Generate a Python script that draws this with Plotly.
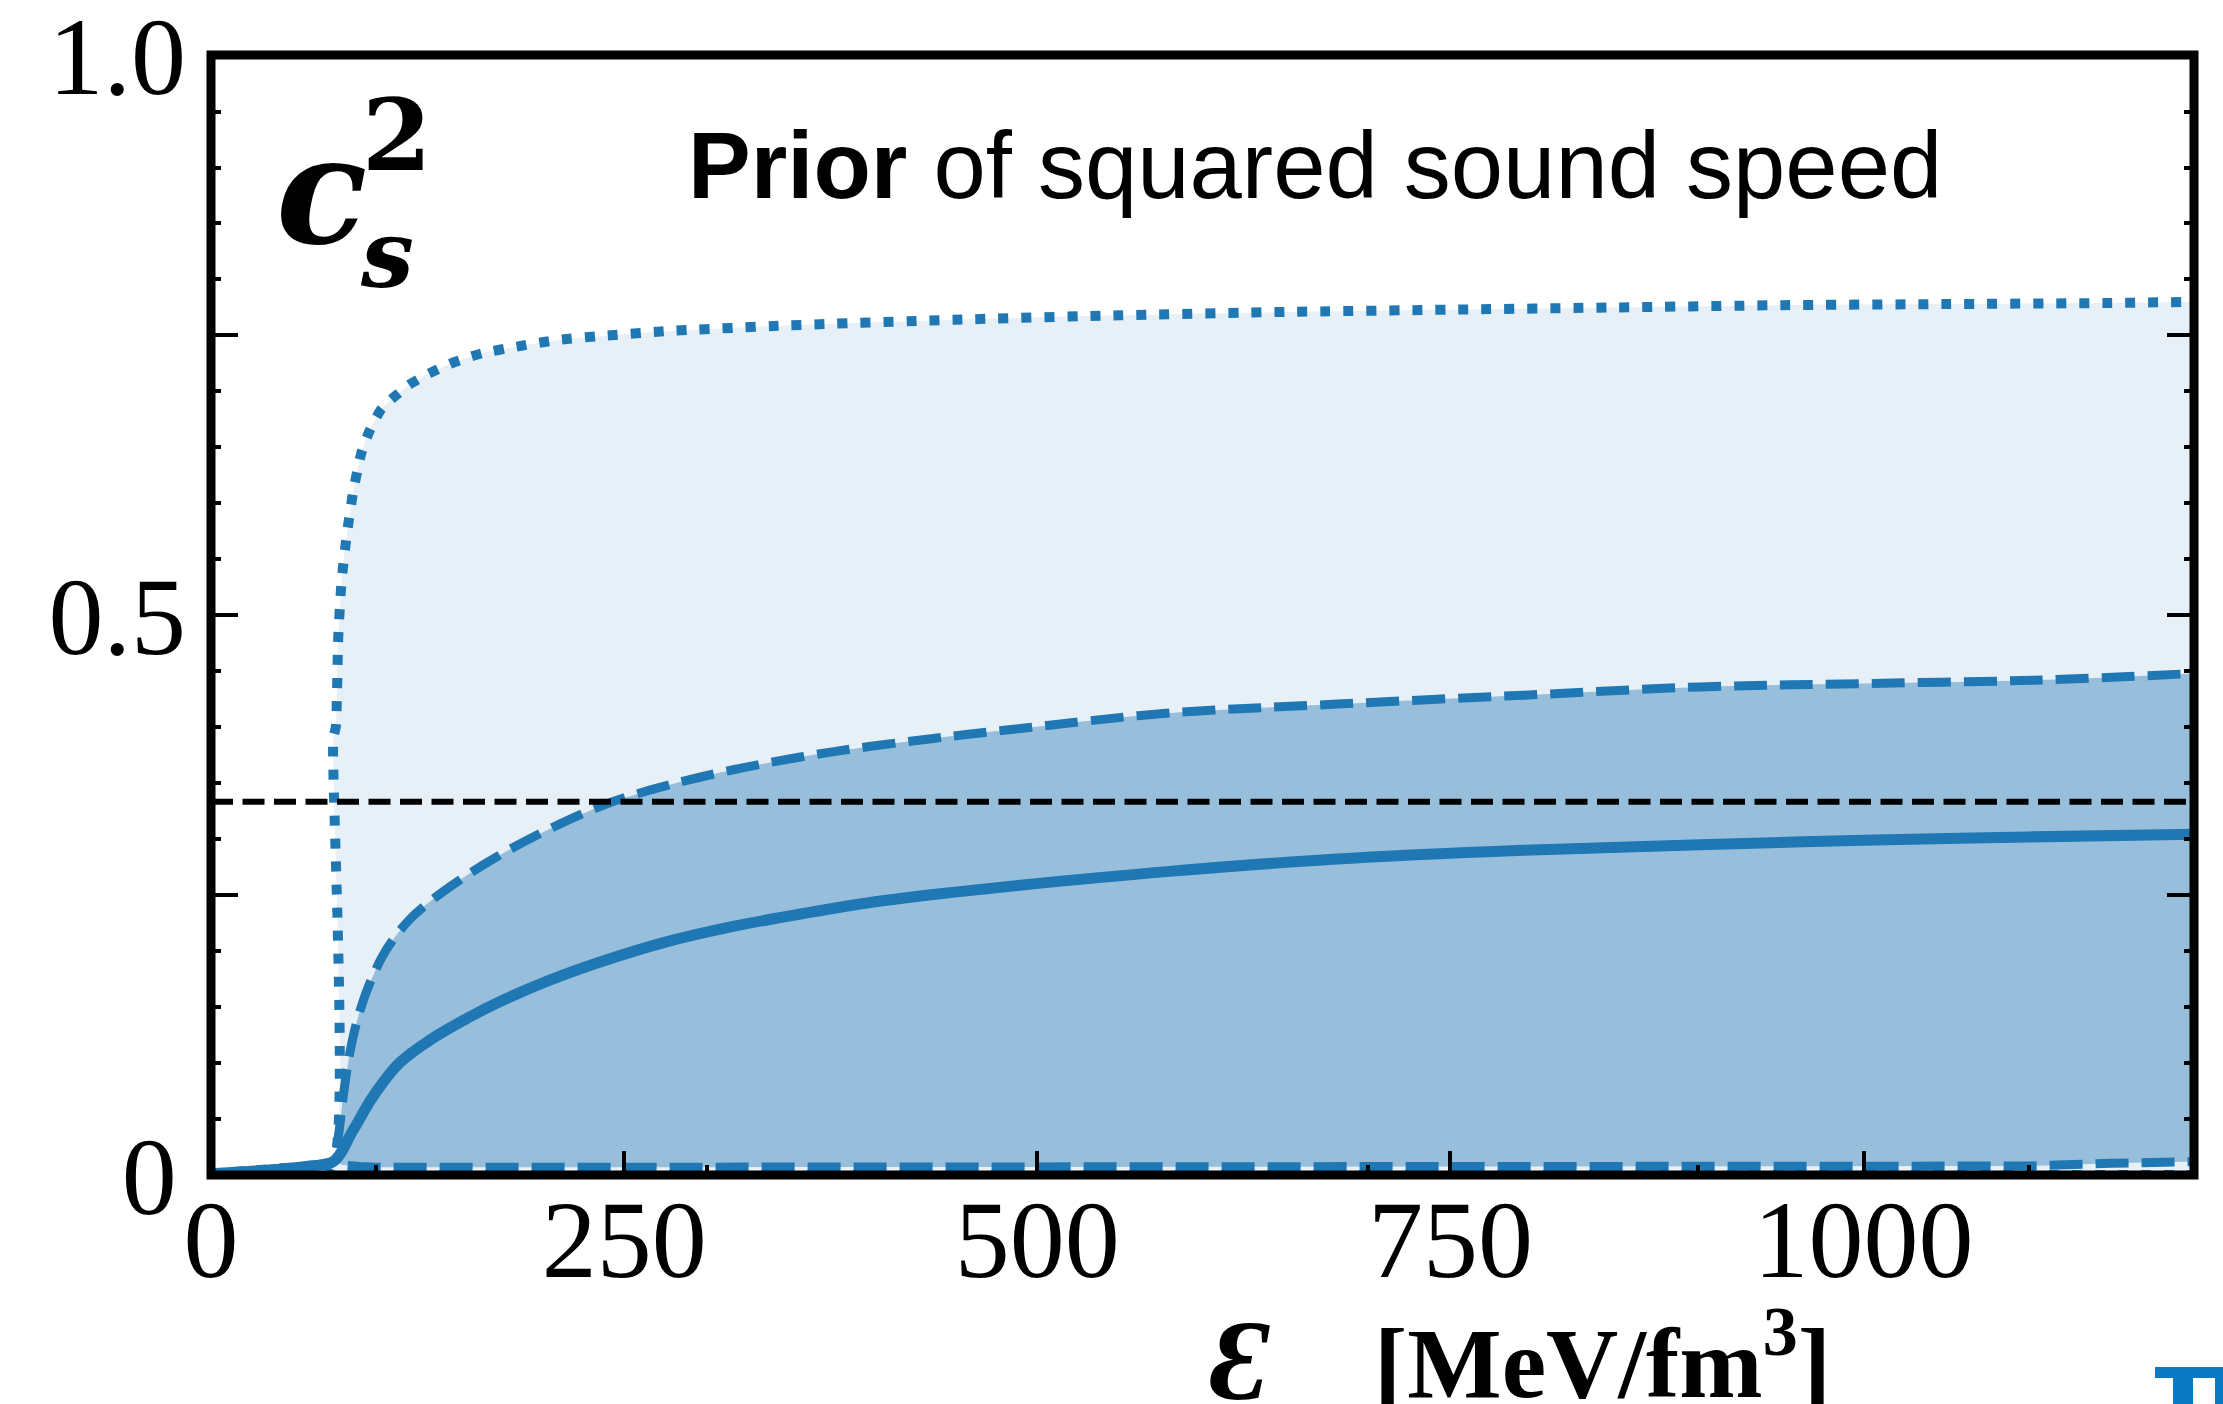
import plotly.graph_objects as go

# ---------------- data ----------------
# crust part (all quantiles coincide)
crust_e = [0, 20, 40, 60]
crust_v = [0.001, 0.003, 0.005, 0.008]

# median (solid)
med_e = crust_e + [74, 86, 98, 114, 134, 155, 175, 205, 235, 275, 316, 360, 397, 440, 491,
                   578, 679, 794, 901, 1000, 1100, 1200]
med_v = crust_v + [0.012, 0.040, 0.070, 0.100, 0.122, 0.140, 0.155, 0.174, 0.190, 0.208, 0.222,
                   0.234, 0.243, 0.251, 0.259, 0.271, 0.282, 0.290, 0.295, 0.299, 0.302, 0.3045]

# 68% band upper (dashed)
d_up_e = crust_e + [74, 77, 80, 84, 89, 96, 106, 120, 134, 151, 167, 175, 195, 235, 266, 316,
                    376, 437, 491, 578, 679, 794, 901, 1000, 1103, 1200]
d_up_v = crust_v + [0.012, 0.034, 0.070, 0.109, 0.141, 0.171, 0.201, 0.228, 0.246, 0.264, 0.279,
                    0.286, 0.302, 0.329, 0.344, 0.362, 0.378, 0.390, 0.399, 0.4125, 0.4205,
                    0.4286, 0.436, 0.439, 0.442, 0.448]

# 68% band lower (dashed)
d_lo_e = crust_e + [74, 80, 90, 100, 300, 500, 700, 900, 1050, 1100, 1150, 1200]
d_lo_v = crust_v + [0.012, 0.009, 0.0075, 0.007, 0.007, 0.007, 0.007, 0.0072, 0.0075, 0.008,
                    0.0105, 0.012]

# 95% band upper (dotted)
p_up_e = crust_e + [74, 74, 75.5, 77, 79, 82, 86, 91, 96, 103, 110, 120, 132, 147, 164, 185,
                    210, 240, 278, 350, 450, 550, 650, 750, 850, 950, 1050, 1150, 1200]
p_up_v = crust_v + [0.012, 0.39, 0.40, 0.48, 0.53, 0.57, 0.61, 0.645, 0.665, 0.684, 0.694,
                    0.706, 0.716, 0.726, 0.734, 0.740, 0.746, 0.750, 0.754, 0.759, 0.764,
                    0.768, 0.771, 0.773, 0.775, 0.777, 0.778, 0.779, 0.780]

# 95% band lower (dotted)
p_lo_e = crust_e + [74, 80, 1200]
p_lo_v = crust_v + [0.0, 0.0, 0.0]

conformal = 1.0 / 3.0

x_ticks = [0, 250, 500, 750, 1000]
x_ticktext = ["0", "250", "500", "750", "1000"]
x_minor = [100, 300, 500, 700, 900, 1100]
y_ticks = [0, 0.25, 0.5, 0.75, 1.0]
y_ticktext = ["0\u200a", " ", "0.5", " ", "1.0"]

# ---------------- layout helpers ----------------
W, H = 2223, 1404
L, R, T, B = 211, 2194, 55, 1175


def px(xp):
    return (xp - L) / (R - L)


def py(yp):
    return (B - yp) / (B - T)


C0 = "#1f77b4"
LIGHT = "rgb(231,240,247)"
DARK = "rgb(151,191,220)"

fig = go.Figure()

fig.add_trace(go.Scatter(x=p_lo_e, y=p_lo_v, mode="lines",
                         line=dict(color=C0, width=10, dash="10px,13px"),
                         showlegend=False, hoverinfo="skip"))
fig.add_trace(go.Scatter(x=p_up_e, y=p_up_v, mode="lines", fill="tonexty", fillcolor=LIGHT,
                         line=dict(color=C0, width=10, dash="10px,13px", shape="spline",
                                   smoothing=0.6),
                         showlegend=False, hoverinfo="skip"))
fig.add_trace(go.Scatter(x=d_lo_e, y=d_lo_v, mode="lines",
                         line=dict(color=C0, width=9, dash="33px,13px"),
                         showlegend=False, hoverinfo="skip"))
fig.add_trace(go.Scatter(x=d_up_e, y=d_up_v, mode="lines", fill="tonexty", fillcolor=DARK,
                         line=dict(color=C0, width=9, dash="33px,13px", shape="spline",
                                   smoothing=1.0),
                         showlegend=False, hoverinfo="skip"))
fig.add_trace(go.Scatter(x=med_e, y=med_v, mode="lines",
                         line=dict(color=C0, width=11, shape="spline", smoothing=1.0),
                         showlegend=False, hoverinfo="skip"))
fig.add_trace(go.Scatter(x=[0, 1200], y=[conformal, conformal], mode="lines", yaxis="y2",
                         line=dict(color="black", width=6, dash="22px,9.5px"),
                         showlegend=False, hoverinfo="skip"))

tickfont = dict(family="Liberation Serif", size=110, color="black")

fig.update_layout(
    width=W, height=H, autosize=False,
    margin=dict(l=L, r=W - R, t=T, b=H - B, pad=0, autoexpand=False),
    paper_bgcolor="white", plot_bgcolor="white",
    xaxis=dict(range=[0, 1200], showgrid=False, zeroline=False, showline=False,
               automargin=False,
               tickmode="array", tickvals=x_ticks, ticktext=x_ticktext,
               ticks="inside", ticklen=24, tickwidth=4, tickcolor="black",
               tickfont=tickfont, ticklabelstandoff=-9, ticklabeloverflow="allow",
               minor=dict(tickmode="array", tickvals=x_minor, ticks="inside",
                          ticklen=10, tickwidth=3.5, tickcolor="black", showgrid=False)),
    yaxis=dict(range=[0, 1.0005], showgrid=False, zeroline=False, showline=False,
               automargin=False,
               tickmode="array", tickvals=y_ticks, ticktext=y_ticktext,
               ticks="inside", ticklen=27, tickwidth=4, tickcolor="black",
               tickfont=tickfont, ticklabelstandoff=24, ticklabeloverflow="allow",
               minor=dict(dtick=0.05, tick0=0, ticks="inside", ticklen=10, tickwidth=3.5,
                          tickcolor="black", showgrid=False)),
    yaxis2=dict(range=[0, 1.0005], overlaying="y", side="right", showgrid=False, zeroline=False,
                showline=False, showticklabels=False, automargin=False,
                tickmode="array", tickvals=y_ticks,
                ticks="inside", ticklen=27, tickwidth=4, tickcolor="black",
                minor=dict(dtick=0.05, tick0=0, ticks="inside", ticklen=10, tickwidth=3.5,
                           tickcolor="black", showgrid=False)),
)

# frame (spines)
fig.add_shape(type="rect", xref="paper", yref="paper", x0=0, x1=1, y0=0, y1=1,
              line=dict(color="black", width=9), layer="above")

# logo fragment at bottom-right
LOGO = "#0a79c2"
for (xa, xb, ya, yb) in [(2155, 2223, 1367, 1378), (2173, 2193, 1377, 1404), (2215, 2223, 1377, 1404)]:
    fig.add_shape(type="rect", xref="paper", yref="paper", x0=px(xa), x1=px(xb),
                  y0=py(yb), y1=py(ya), line=dict(width=0), fillcolor=LOGO, layer="above")

ann = []
ann.append(dict(text="<b>Prior</b> of squared sound speed", x=px(686), y=py(166),
                xanchor="left", yanchor="middle",
                font=dict(family="Liberation Sans", size=94, color="black")))
ann.append(dict(text="<b><i>c</i></b>", x=px(274), y=py(190), xanchor="left", yanchor="middle",
                font=dict(family="DejaVu Serif", size=150, color="black")))
ann.append(dict(text="<b>2</b>", x=px(360), y=py(135), xanchor="left", yanchor="middle",
                font=dict(family="DejaVu Serif", size=100, color="black")))
ann.append(dict(text="<b><i>s</i></b>", x=px(358), y=py(254), xanchor="left", yanchor="middle",
                font=dict(family="DejaVu Serif", size=94, color="black")))
ann.append(dict(text="<b><i>Ɛ</i></b>", x=px(1208), y=py(1360), xanchor="left", yanchor="middle",
                font=dict(family="Liberation Serif", size=114, color="black")))
ann.append(dict(text="<b>[MeV/fm<sup>3</sup>]</b>", x=px(1372), y=py(1356), xanchor="left",
                yanchor="middle",
                font=dict(family="Liberation Serif", size=100, color="black")))
for a in ann:
    a.update(xref="paper", yref="paper", showarrow=False)
fig.update_layout(annotations=ann)

fig.write_html("out.html")
